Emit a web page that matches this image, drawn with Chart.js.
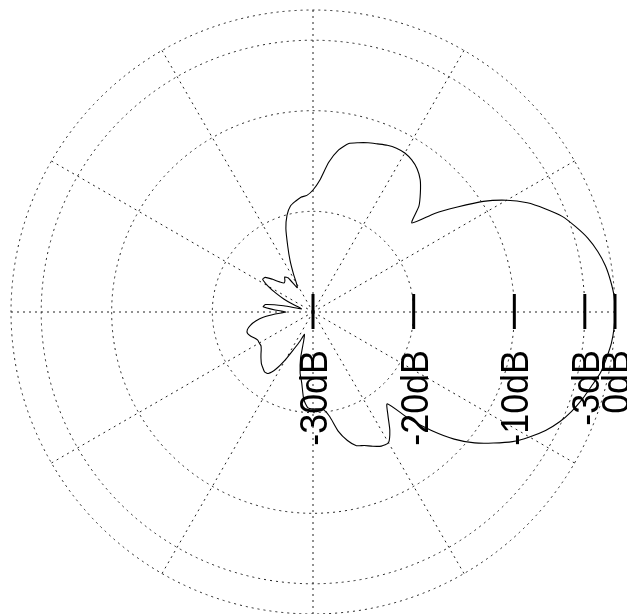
<!DOCTYPE html>
<html>
<head>
<meta charset="utf-8">
<script src="https://cdn.jsdelivr.net/npm/chart.js@4/dist/chart.umd.min.js"></script>
<style>
html,body{margin:0;padding:0;background:#fff;}
#wrap{width:627px;height:614px;position:relative;}
</style>
</head>
<body>
<div id="wrap"><canvas id="c" width="627" height="614"></canvas></div>
<script>
// Angle (degrees, counter-clockwise from the right-hand axis)
const anglesDeg = [0,3,6,9,12,15,18,21,24,27,30,33,36,39,42,45,48,51,54,57,
  60,63,66,69,72,75,78,81,84,87,90,93,96,99,102,105,108,111,114,117,
  120,123,126,129,132,135,138,141,144,147,150,153,156,159,162,165,168,171,174,177,
  180,183,186,189,192,195,198,201,204,207,210,213,216,219,222,225,228,231,234,237,
  240,243,246,249,252,255,258,261,264,267,270,273,276,279,282,285,288,291,294,297,
  300,303,306,309,312,315,318,321,324,327,330,333,336,339,342,345,348,351,354,357];

// Normalised gain (dB) at each angle
const gainDb = [0,-0.05,-0.28,-0.59,-1.08,-1.72,-2.57,-3.49,-4.77,-6.11,-7.79,-9.83,-12.27,-14.45,-16.79,-15.12,-14.06,-13.08,-12.41,-11.99,
  -11.76,-11.73,-11.86,-12.11,-12.32,-12.59,-12.89,-13.7,-15.05,-16.87,-17.88,-18.4,-18.53,-18.86,-19.23,-20.03,-21.28,-23.0,-24.39,-25.69,
  -26.72,-27.12,-25.83,-25.53,-25.83,-25.93,-25.53,-24.84,-24.14,-24.04,-24.84,-25.83,-26.82,-27.81,-28.61,-28.81,-27.02,-25.23,-25.03,-26.23,
  -27.32,-26.23,-25.03,-24.24,-23.64,-23.25,-23.15,-23.35,-23.64,-23.84,-23.84,-23.84,-23.64,-23.35,-23.05,-22.75,-22.55,-22.35,-22.45,-23.25,
  -24.54,-25.93,-26.82,-27.62,-27.02,-25.23,-23.84,-22.85,-21.26,-20.46,-20.37,-20.37,-20.27,-19.52,-17.88,-16.79,-16.04,-15.8,-15.4,-15.05,
  -15.0,-15.99,-17.34,-18.28,-15.7,-13.36,-11.13,-9.34,-7.85,-6.36,-5.17,-4.07,-3.18,-2.48,-1.89,-1.39,-0.82,-0.5,-0.2,-0.05];

// Ring values and their labels
const ringValues = [-30, -20, -10, -3, 0];
const ringLabels = ['-30dB', '-20dB', '-10dB', '-3dB', '0dB'];
const spokeEveryDeg = 30;

// Radar draws clockwise from the start angle; reorder so angles run counter-clockwise
const n = anglesDeg.length;
const order = anglesDeg.map((_, i) => (n - i) % n);
const chartLabels = order.map(j => anglesDeg[j]);
const chartData = order.map(j => gainDb[j]);

const dbAxisPlugin = {
  id: 'dbAxis',
  afterDatasetsDraw(chart) {
    const s = chart.scales.r;
    const ctx = chart.ctx;
    ctx.save();
    ctx.fillStyle = '#000';
    ctx.strokeStyle = '#000';
    ctx.setLineDash([]);
    ringValues.forEach((v, k) => {
      const x = s.xCenter + s.getDistanceFromCenterForValue(v);
      const y = s.yCenter;
      ctx.lineWidth = 3;
      ctx.beginPath();
      ctx.moveTo(x, y - 18);
      ctx.lineTo(x, y + 17);
      ctx.stroke();
      ctx.save();
      ctx.translate(x, y + 38);
      ctx.rotate(-Math.PI / 2);
      ctx.scale(0.92, 1);
      ctx.font = '39px "Liberation Sans", Arial, Helvetica, sans-serif';
      ctx.textAlign = 'right';
      ctx.textBaseline = 'alphabetic';
      ctx.fillText(ringLabels[k], 0, 14);
      ctx.restore();
    });
    ctx.restore();
  }
};

new Chart(document.getElementById('c'), {
  type: 'radar',
  data: {
    labels: chartLabels,
    datasets: [{
      data: chartData,
      borderColor: '#000',
      borderWidth: 1.1,
      fill: false,
      pointRadius: 0,
      tension: 0.2
    }]
  },
  options: {
    responsive: false,
    animation: false,
    layout: { padding: { top: 10, bottom: 0, left: 0, right: 1 } },
    plugins: { legend: { display: false }, tooltip: { enabled: false } },
    scales: {
      r: {
        min: -30,
        max: 0,
        startAngle: 90,
        afterBuildTicks: (sc) => { sc.ticks = ringValues.map(v => ({ value: v })); },
        ticks: { display: false },
        pointLabels: { display: false },
        grid: { circular: true, color: '#222', lineWidth: 1 },
        border: { dash: [2, 4] },
        angleLines: {
          display: true,
          color: '#222',
          lineWidth: (c) => (chartLabels[c.index] % spokeEveryDeg === 0 ? 1 : 0),
          borderDash: [2, 4]
        }
      }
    }
  },
  plugins: [dbAxisPlugin]
});
</script>
</body>
</html>
